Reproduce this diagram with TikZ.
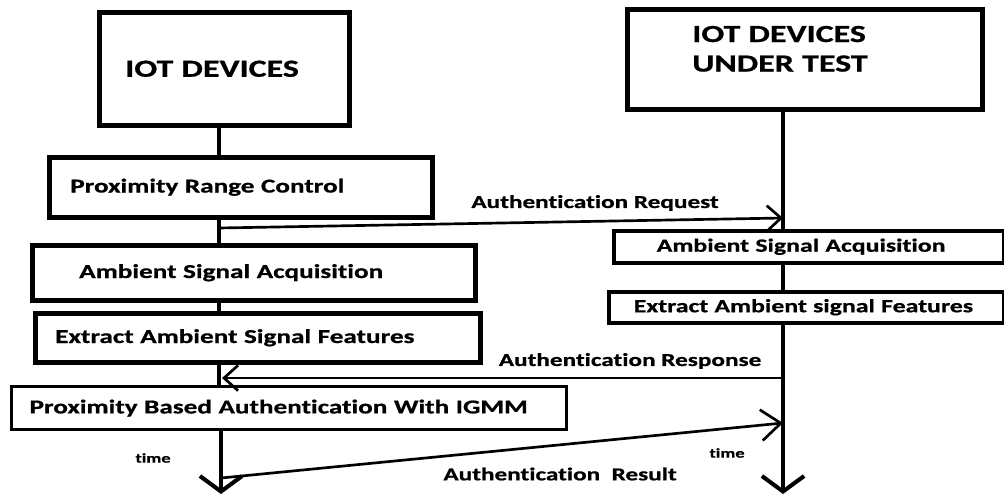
\documentclass[tikz,border=0pt]{standalone}
\usepackage{fontspec}
\setmainfont{Carlito}
\newfontfamily\wideface{Carlito}[FakeStretch=1.38, Ligatures=NoCommon,
  BoldFeatures={FakeBold=0.8}]
\usetikzlibrary{arrows.meta}

\begin{document}
\begin{tikzpicture}[x=0.025cm,y=-0.025cm,
    every node/.style={font=\wideface\bfseries, text=black},
    blk/.style={draw, line width=3.2pt, anchor=north west, align=left,
                inner ysep=0pt, font=\wideface\bfseries\fontsize{14}{16}\selectfont},
    head/.style={blk, font=\wideface\bfseries\fontsize{17.5}{21}\selectfont},
    smallblk/.style={blk, line width=2.5pt, font=\wideface\bfseries\fontsize{13.3}{15}\selectfont},
    life/.style={line width=2.9pt},
    msg/.style={line width=1.9pt, -{Straight Barb[length=10pt,width=18pt]}},
    msglbl/.style={font=\wideface\bfseries\fontsize{13}{15}\selectfont},
    tlbl/.style={font=\wideface\bfseries\fontsize{9.5}{11}\selectfont}]
  \useasboundingbox (0,0) rectangle (1004,500);

  % left side: the devices
  \node[head, minimum width=6.25cm, minimum height=2.825cm, text width=4.95cm,
        inner xsep=0.65cm] (dev) at (97,10) {\mbox{IOT DEVICES}\\[4pt]};
  \node[blk, minimum width=9.575cm, minimum height=1.5cm, text width=8.525cm,
        inner xsep=0.5cm] (prc) at (47,155) {\mbox{Proximity Range Control}\\[6pt]};
  \node[blk, minimum width=11.075cm, minimum height=1.375cm, text width=8.725cm,
        inner xsep=1.15cm] (asaL) at (30,243) {\mbox{Ambient Signal Acquisition}\\[4pt]};
  \node[blk, minimum width=11.125cm, minimum height=1.225cm, text width=10.125cm,
        inner xsep=0.5cm] (eafL) at (33,311) {\mbox{Extract Ambient Signal Features}};
  \node[blk, line width=2.2pt, minimum width=13.875cm, minimum height=1.075cm,
        text width=12.975cm, inner xsep=0.45cm] (pba) at (10,385)
        {\mbox{Proximity Based Authentication With IGMM}};

  % right side: the devices under test
  \node[head, minimum width=8.875cm, minimum height=2.5cm, text width=5.625cm,
        inner xsep=1.625cm] (devT) at (625,7) {IOT DEVICES\\UNDER TEST\\[-6pt]\mbox{}};
  \node[smallblk, minimum width=9.75cm, minimum height=0.8cm,
        text width=7.6cm, inner xsep=1.075cm] (asaR) at (612,229)
        {\mbox{Ambient Signal Acquisition}};
  \node[smallblk, minimum width=9.875cm, minimum height=0.775cm,
        text width=8.625cm, inner xsep=0.625cm] (eafR) at (607,290)
        {\mbox{Extract Ambient signal Features}};

  % lifelines
  \coordinate (lx) at (219,0);
  \coordinate (rx) at (783,0);
  \coordinate (endL) at (221,494);
  \coordinate (endR) at (783,494);
  \draw[life] (dev.south -| lx) -- (prc.north -| lx);
  \draw[life] (prc.south -| lx) -- (asaL.north -| lx);
  \draw[life] (asaL.south -| lx) -- (eafL.north -| lx);
  \draw[life] (eafL.south -| lx) -- (pba.north -| lx);
  \draw[life, -{Straight Barb[length=11pt,width=30pt]}] (pba.south -| endL) -- (endL);
  \draw[life] (devT.south -| rx) -- (asaR.north -| rx);
  \draw[life] (asaR.south -| rx) -- (eafR.north -| rx);
  \draw[life, -{Straight Barb[length=11pt,width=30pt]}] (eafR.south -| rx) -- (endR);

  % messages
  \coordinate (reqA) at (219,228);
  \coordinate (reqB) at (783,218);
  \coordinate (rspA) at (783,378);
  \coordinate (rspB) at (222,378);
  \coordinate (resA) at (221,478);
  \coordinate (resB) at (783,423);
  \draw[msg] (reqA) -- (reqB);
  \draw[msg] (rspA) -- (rspB);
  \draw[msg, -{Straight Barb[length=14pt,width=22pt]}] (resA) -- (resB);
  \node[msglbl] (reqlbl) at (595,203) {Authentication Request};
  \node[msglbl] (rsplbl) at (630,361) {Authentication Response};
  \node[msglbl] (reslbl) at (560,474) {Authentication\ \ Result};
  \node[tlbl] (tL) at (153,458) {time};
  \node[tlbl] (tR) at (727,453) {time};
\end{tikzpicture}
\end{document}
